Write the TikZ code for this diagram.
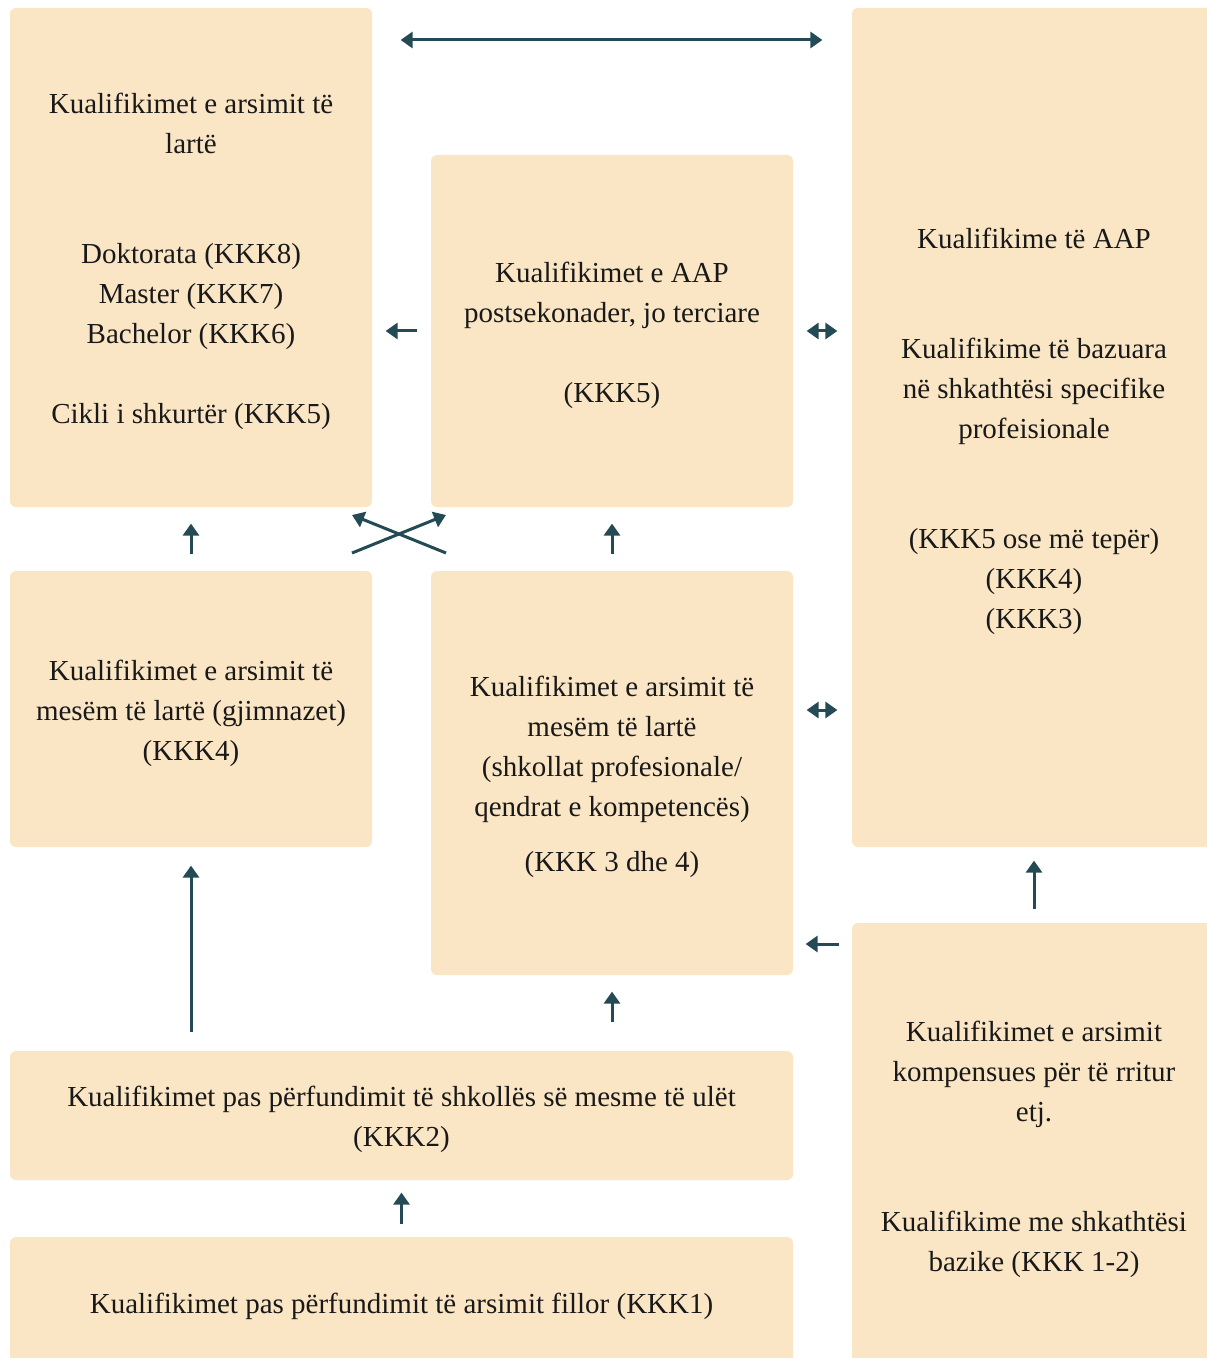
\documentclass[tikz,border=0pt]{standalone}
\usepackage{fontspec}
\setmainfont{Liberation Serif}
\usetikzlibrary{fit}
\usetikzlibrary{arrows.meta}

\definecolor{boxfill}{HTML}{FAE6C5}
\definecolor{linkcol}{HTML}{244B55}

\begin{document}
\begin{tikzpicture}[
            x = 0.5pt, y = -0.5pt, % pixel grid of the reference
            > = {Triangle[length=6pt, width=8pt]}, % arrow head style
            semithick % line style
        ]

        \tikzstyle{box}=[
            fill = boxfill,
            rounded corners = 3pt,
            inner sep = 0pt
        ]
        \tikzstyle{txt}=[
            align = center,
            yshift = -2pt,
            text = black!90,
            font = \fontsize{14.5}{20}\selectfont
        ]
        \tikzstyle{link}=[
            draw = linkcol,
            line width = 1.5pt
        ]

        \useasboundingbox (0,0) rectangle (1206,1358);

	% BOXES
        \node[box, fit={(10,8) (372,507)}] (HighEd) {};
        \node[box, fit={(431,155) (793,507)}] (PostSec) {};
        \node[box, fit={(852,8) (1216,847)}] (VetQual) {};
        \node[box, fit={(10,571) (372,847)}] (Gymn) {};
        \node[box, fit={(431,571) (793,975)}] (VocSch) {};
        \node[box, fit={(10,1051) (793,1180)}] (LowSec) {};
        \node[box, fit={(10,1237) (793,1367)}] (Primary) {};
        \node[box, fit={(852,923) (1216,1367)}] (Adult) {};

	% TEXTS
        \node[txt] (HighEdTxt) at (HighEd) {Kualifikimet e arsimit të\\lartë\\[35pt]Doktorata (KKK8)\\Master (KKK7)\\Bachelor (KKK6)\\[20pt]Cikli i shkurtër (KKK5)};
        \node[txt] (PostSecTxt) at (PostSec) {Kualifikimet e AAP\\postsekonader, jo terciare\\[20pt](KKK5)};
        \node[txt] (VetQualTxt) at (VetQual) {Kualifikime të AAP\\[35pt]Kualifikime të bazuara\\në shkathtësi specifike\\profeisionale\\[35pt](KKK5 ose më tepër)\\(KKK4)\\(KKK3)};
        \node[txt] (GymnTxt) at (Gymn) {Kualifikimet e arsimit të\\mesëm të lartë (gjimnazet)\\(KKK4)};
        \node[txt] (VocSchTxt) at (VocSch) {Kualifikimet e arsimit të\\mesëm të lartë\\(shkollat profesionale/\\qendrat e kompetencës)\\[7.5pt](KKK 3 dhe 4)};
        \node[txt] (LowSecTxt) at (LowSec) {Kualifikimet pas përfundimit të shkollës së mesme të ulët\\(KKK2)};
        \node[txt] (PrimaryTxt) at (Primary) {Kualifikimet pas përfundimit të arsimit fillor (KKK1)};
        \node[txt] (AdultTxt) at (Adult) {Kualifikimet e arsimit\\kompensues për të rritur\\etj.\\[35pt]Kualifikime me shkathtësi\\bazike (KKK 1-2)};

	% LEVELS OF THE SIDE LINKS
        \coordinate (TopLink) at (0,40);
        \coordinate (VocLink) at (0,710);
        \coordinate (AdultLink) at (0,944);
        \coordinate (GymnOut) at (352,553);
        \coordinate (PostSecIn) at (446,515);
        \coordinate (VocOut) at (446,553);
        \coordinate (HighEdIn) at (352,515);

	% LINKS
        \draw[link, <->, shorten < = 14pt, shorten > = 14.5pt] (HighEd.east |- TopLink) -- (VetQual.west |- TopLink);
        \draw[link, ->, shorten < = 6.5pt, shorten > = 6.5pt] (PostSec.west) -- (HighEd.east |- PostSec.west);
        \draw[link, <->, shorten < = 6.5pt, shorten > = 7pt] (PostSec.east) -- (VetQual.west |- PostSec.east);
        \draw[link, ->, shorten < = 8pt, shorten > = 8pt] (Gymn.north) -- (HighEd.south);
        \draw[link, ->, shorten < = 8pt, shorten > = 8pt] (VocSch.north) -- (PostSec.south);
        \draw[link, ->] (GymnOut) -- (PostSecIn);
        \draw[link, ->] (VocOut) -- (HighEdIn);
        \draw[link, <->, shorten < = 6.5pt, shorten > = 7pt] (VocSch.east |- VocLink) -- (VetQual.west |- VocLink);
        \draw[link, ->, shorten < = 9pt, shorten > = 9pt] (Gymn.south |- LowSec.north) -- (Gymn.south);
        \draw[link, ->, shorten < = 14pt, shorten > = 8pt] (VocSch.south |- LowSec.north) -- (VocSch.south);
        \draw[link, ->, shorten < = 6.5pt, shorten > = 6.5pt] (Adult.north) -- (VetQual.south);
        \draw[link, ->, shorten < = 6pt, shorten > = 6pt] (Adult.west |- AdultLink) -- (VocSch.east |- AdultLink);
        \draw[link, ->, shorten < = 6pt, shorten > = 6pt] (Primary.north) -- (LowSec.south);

  \end{tikzpicture}
\end{document}
